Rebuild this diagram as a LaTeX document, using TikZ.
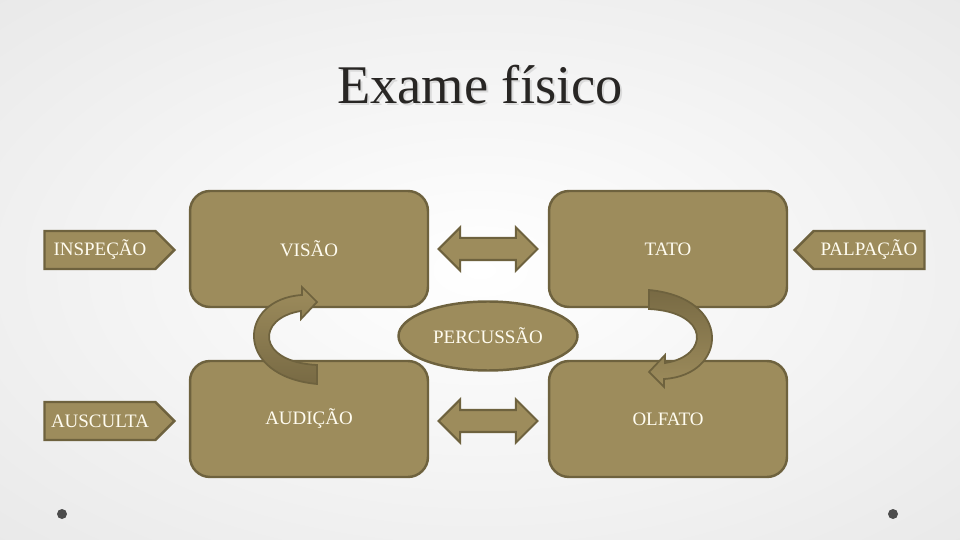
\documentclass[tikz,border=0pt]{standalone}
\usepackage{fontspec}
\setmainfont{Liberation Serif}
\usetikzlibrary{positioning, shapes.geometric, shapes.arrows, shapes.symbols}
\definecolor{olivefill}{RGB}{157,140,92}
\definecolor{oliveline}{RGB}{110,98,62}
\definecolor{olivedark}{RGB}{120,106,68}
\definecolor{creamtext}{RGB}{255,252,240}
\definecolor{titleink}{RGB}{40,38,36}

\begin{document}
\begin{tikzpicture}[
    x=0.02cm, y=-0.02cm,
    sense/.style={rectangle, rounded corners=0.4cm, draw=oliveline, line width=1.4pt, fill=olivefill,
        minimum width=4.76cm, minimum height=2.32cm, text=creamtext, font=\fontsize{10.8}{13}\selectfont},
    tag/.style={signal, signal pointer angle=90, draw=oliveline, line width=1.4pt, fill=olivefill,
        minimum width=2.6cm, minimum height=0.76cm, inner sep=2pt, text=creamtext, font=\fontsize{10.8}{13}\selectfont},
    link/.style={double arrow, draw=oliveline, line width=1.2pt, fill=olivefill, minimum height=1.98cm,
        minimum width=0.82cm, inner sep=0.2cm, double arrow head extend=0.21cm},
    turn/.style={draw=oliveline, line width=1pt}
]
    % Background
    \useasboundingbox (0,0) rectangle (960,540);
    \begin{scope}
        \clip (0,0) rectangle (960,540);
        \shade[inner color=white, outer color=gray!24] (-480,-270) rectangle (1440,810);
    \end{scope}
    \fill[gray!60!black] (62,514) circle[radius=0.1cm];
    \fill[gray!60!black] (893,514) circle[radius=0.1cm];

    % Title
    \node[anchor=base, text=gray!28, font=\fontsize{31}{36}\selectfont] (titleshadow) at (482,106) {Exame físico};
    \node[anchor=base, text=titleink, font=\fontsize{31}{36}\selectfont] (title) at (480,104) {Exame físico};

    % Senses
    \node[sense] (visao) at (309,249) {VISÃO};
    \node[sense] (tato) at (668,249) {TATO};
    \node[sense] (audicao) at (309,419) {AUDIÇÃO};
    \node[sense] (olfato) at (668,419) {OLFATO};

    % Techniques
    \node[tag, signal to=east] (inspecao) at (100,250) {INSPEÇÃO};
    \node[tag, signal to=west] (palpacao) at (869,250) {PALPAÇÃO};
    \node[tag, signal to=east] (ausculta) at (100,421) {AUSCULTA};
    \node[ellipse, draw=oliveline, line width=1.4pt, fill=olivefill, minimum width=3.58cm, minimum height=1.38cm,
        inner sep=0pt, text=creamtext, font=\fontsize{10.8}{13}\selectfont] (percussao) at (488,336) {PERCUSSÃO};

    % Links between senses
    \node[link] (linktop) at (488,249) {};
    \node[link] (linkbottom) at (488,421) {};

    % Turning arrows
    \shade[turn, top color=olivefill, bottom color=olivedark]
        (317,384) .. controls (233,376) and (238,299) .. (302,295) -- (302,287) -- (317,302) -- (301,319)
        -- (301,311) .. controls (256,318) and (256,362) .. (317,365) -- cycle;
    \shade[turn, top color=olivedark, bottom color=olivefill]
        (649,290) .. controls (733,298) and (728,375) .. (664,379) -- (664,387) -- (649,372) -- (665,355)
        -- (665,363) .. controls (710,356) and (710,312) .. (649,309) -- cycle;
\end{tikzpicture}
\end{document}
